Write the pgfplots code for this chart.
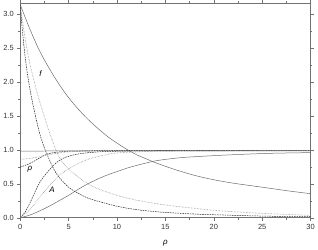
\documentclass[border=0pt]{standalone}
\usepackage{fontspec}
\setmainfont{Liberation Sans}
\usepackage{pgfplots}
\pgfplotsset{compat=1.18}
\definecolor{axgray}{gray}{0.45}
\definecolor{solidgray}{gray}{0.42}
\definecolor{dotgray}{gray}{0.55}
\begin{document}
\begin{tikzpicture}
\begin{axis}[
  scale only axis,
  width=291bp, height=215bp,
  xmin=0, xmax=30, ymin=0, ymax=3.16,
  xtick={0,5,...,30},
  ytick={0,0.5,...,3.0},
  minor tick num=1,
  tick align=outside,
  major tick length=3bp, minor tick length=1.8bp,
  axis line style={axgray, line width=0.8pt},
  every tick/.style={axgray, line width=0.5pt},
  yticklabel style={/pgf/number format/fixed, /pgf/number format/precision=1, /pgf/number format/fixed zerofill},
  /pgf/number format/assume math mode=true,
  tick label style={font=\fontsize{7.5}{8.5}\selectfont, text=black!80},
  xlabel={\textit{ρ}},
  xlabel style={font=\fontsize{8}{9}\selectfont, yshift=-4pt},
  every axis plot/.append style={line width=0.5pt, smooth, tension=0.5},
  clip=true,
]
% solid family
\addplot[solidgray] coordinates {(0,3.14) (1,2.78) (2,2.46) (3,2.2) (4,1.97) (5,1.77) (6,1.6) (7,1.45) (8,1.32) (9,1.2) (10,1.1) (11,1.01) (12,0.93) (13,0.87) (14,0.81) (16,0.71) (18,0.625) (20,0.56) (22,0.51) (24,0.47) (26,0.43) (28,0.39) (30,0.355)};
\addplot[solidgray] coordinates {(0,0) (1,0.04) (2,0.1) (3,0.17) (4,0.25) (5,0.33) (6,0.42) (7,0.5) (8,0.57) (9,0.63) (10,0.68) (11,0.73) (12,0.77) (13.7,0.83) (15,0.86) (17,0.89) (20,0.915) (23,0.935) (26,0.95) (30,0.96)};
\addplot[solidgray] coordinates {(0,0.983) (10,0.985) (20,0.986) (30,0.986)};
% dashed family
\addplot[black!85, dash pattern=on 1.6pt off 0.9pt] coordinates {(0,3.14) (0.3,2.65) (0.62,2.25) (1,1.9) (1.5,1.55) (2,1.25) (2.5,1.03) (3,0.86) (3.5,0.71) (4,0.6) (5,0.45) (6,0.36) (7,0.29) (8,0.245) (10,0.17) (12,0.12) (14,0.09) (16,0.07) (18,0.055) (20,0.045) (25,0.025) (30,0.015)};
\addplot[black!85, dash pattern=on 1.6pt off 0.9pt] coordinates {(0,0) (0.5,0.08) (1.1,0.245) (2.1,0.54) (3.5,0.78) (4.5,0.88) (6,0.94) (8,0.97) (10,0.98) (15,0.988) (30,0.99)};
\addplot[black!85, dash pattern=on 1.6pt off 0.9pt] coordinates {(0,0.745) (1,0.8) (2,0.88) (2.8,0.94) (4,0.97) (5,0.98) (7,0.985) (10,0.99) (30,0.99)};
% dotted family
\addplot[dotgray, densely dotted, line width=0.65pt] coordinates {(0,3.14) (0.5,2.65) (1,2.27) (1.5,1.98) (2,1.72) (3,1.27) (4,0.9) (5,0.72) (6,0.6) (7,0.5) (8,0.43) (10,0.33) (12,0.26) (14,0.21) (16,0.17) (18,0.14) (20,0.11) (22,0.09) (25,0.065) (30,0.035)};
\addplot[dotgray, densely dotted, line width=0.65pt] coordinates {(0,0) (1,0.12) (2,0.3) (3,0.47) (4,0.62) (5,0.72) (6,0.8) (7,0.86) (8,0.9) (9.7,0.95) (12,0.97) (15,0.98) (30,0.99)};
\addplot[dotgray, densely dotted, line width=0.65pt] coordinates {(0,0.86) (1,0.875) (2,0.9) (3,0.93) (4,0.955) (5,0.97) (7,0.98) (10,0.985) (30,0.99)};
% labels
\node[font=\fontsize{8}{9}\selectfont\itshape] at (axis cs:2.1,2.13) {f};
\node[font=\fontsize{8}{9}\selectfont\itshape] at (axis cs:1.0,0.71) {ρ};
\node[font=\fontsize{8}{9}\selectfont\itshape] at (axis cs:3.3,0.41) {A};
\end{axis}
\end{tikzpicture}
\end{document}
